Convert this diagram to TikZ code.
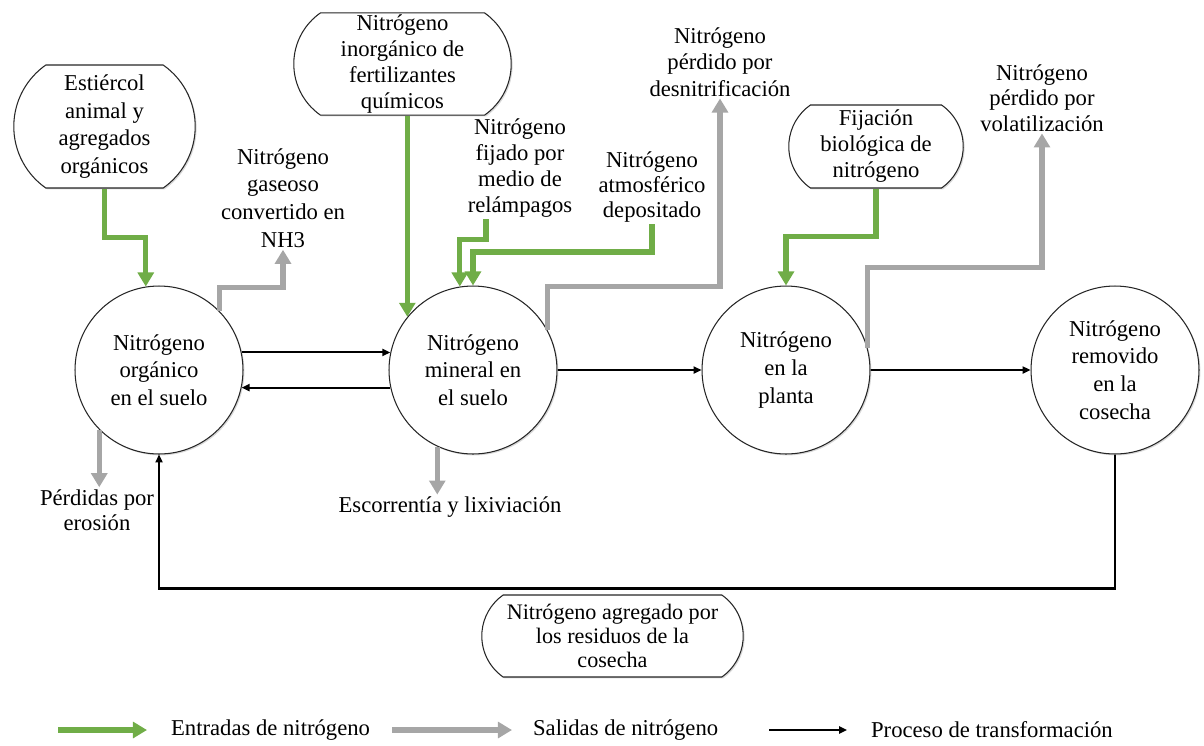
\documentclass[tikz,border=0pt]{standalone}
\usepackage{fontspec}
\setmainfont{Liberation Serif}
\usetikzlibrary{shapes.misc, shapes.geometric, shadows}
\usetikzlibrary{arrows.meta, calc}
\definecolor{verde}{RGB}{112,173,71}
\definecolor{gris}{RGB}{166,166,166}
\colorlet{borde}{black!85}

\tikzset{
    texto/.style={font=\fontsize{12.9}{15.8}\selectfont, align=center, inner sep=1pt},
    caja/.style={texto, rounded rectangle, rounded rectangle arc length=110, draw=borde, line width=0.6pt, fill=white,
        drop shadow={shadow xshift=0.8pt, shadow yshift=-0.8pt, opacity=0.3}},
    circulo/.style={texto, circle, minimum size=3.36cm, draw=borde, line width=0.6pt, fill=white,
        drop shadow={shadow xshift=0.8pt, shadow yshift=-0.8pt, opacity=0.3}},
    entrada/.style={verde, line width=3pt, -{Triangle[length=8pt,width=9pt]}},
    salida/.style={gris, line width=3pt, -{Triangle[length=8pt,width=9pt]}},
    proceso/.style={black, line width=1.2pt, -{Triangle[length=4.5pt,width=4pt]}}
}

\begin{document}
\begin{tikzpicture}[x=0.02cm, y=-0.02cm]
    \useasboundingbox (0,0) rectangle (1204,745);

    % reservorios
    \node[circulo] (organico) at (159,370) {Nitrógeno\\orgánico\\en el suelo};
    \node[circulo] (mineral) at (473,370) {Nitrógeno\\mineral en\\el suelo};
    \node[circulo] (planta) at (786,370) {Nitrógeno\\en la\\planta};
    \node[circulo] (cosecha) at (1115,370) {Nitrógeno\\removido\\en la\\cosecha};

    % cajas
    \node[caja, minimum width=3.7cm, minimum height=2.46cm] (estiercol) at (104.5,126.5) {Estiércol\\animal y\\agregados\\orgánicos};
    \node[caja, minimum width=4.42cm, minimum height=2.04cm, font=\fontsize{12.9}{14.8}\selectfont] (fertil) at (402.5,64) {Nitrógeno\\inorgánico de\\fertilizantes\\químicos};
    \node[caja, minimum width=3.56cm, minimum height=1.66cm, font=\fontsize{12.9}{14.8}\selectfont] (fijacion) at (876,146.5) {Fijación\\biológica de\\nitrógeno};
    \node[caja, minimum width=5.3cm, minimum height=1.64cm, font=\fontsize{12.6}{13.6}\selectfont] (residuos) at (612.5,636) {Nitrógeno agregado por\\los residuos de la\\cosecha};

    % etiquetas
    \node[texto] (gas) at (283,198) {Nitrógeno\\gaseoso\\convertido en\\NH3};
    \node[texto, font=\fontsize{12.9}{14.8}\selectfont] (relampago) at (520,168) {Nitrógeno\\fijado por\\medio de\\relámpagos};
    \node[texto, font=\fontsize{12.9}{14}\selectfont] (atmosf) at (652,187) {Nitrógeno\\atmosférico\\depositado};
    \node[texto, font=\fontsize{12.9}{15}\selectfont] (desnitri) at (720,62) {Nitrógeno\\pérdido por\\desnitrificación};
    \node[texto, font=\fontsize{12.9}{14.4}\selectfont] (volatil) at (1042,98) {Nitrógeno\\pérdido por\\volatilización};
    \node[texto, font=\fontsize{12.9}{14.4}\selectfont] (erosion) at (97,510) {Pérdidas por\\erosión};
    \node[texto] (escorrentia) at (450,507) {Escorrentía y lixiviación};

    % entradas
    \draw[entrada] (estiercol.south) -- ++(0,49) -| (organico.99);
    \draw[entrada] (fertil.south -| mineral.141) -- (mineral.141);
    \draw[entrada] ([xshift=-0.68cm]relampago.south) -- ++(0,20) -| (mineral.99);
    \draw[entrada] (atmosf.south) -- ++(0,28) -| (mineral.north);
    \draw[entrada] (fijacion.south) -- ++(0,48) -| (planta.north);

    % salidas
    \draw[salida] (organico.44) -- ++(0,-24) -| (gas.south);
    \draw[salida] (mineral.28) -- ++(0,-44) -| (desnitri.south);
    \draw[salida] (planta.15) -- ++(0,-81) -| (volatil.south);
    \draw[salida] (organico.225) -- (organico.225 |- erosion.north);
    \draw[salida] (mineral.245) -- (mineral.245 |- escorrentia.north);

    % transformaciones
    \draw[proceso] (organico.12) -- (mineral.168);
    \draw[proceso] (mineral.192) -- (organico.-12);
    \draw[proceso] (mineral.east) -- (planta.west);
    \draw[proceso] (planta.east) -- (cosecha.west);
    \draw[proceso] (cosecha.south) -- ++(0,134) -| (organico.south);

    % leyenda
    \node[texto, anchor=west] (ley-ent) at (169,730) {Entradas de nitrógeno};
    \node[texto, anchor=west] (ley-sal) at (531,730) {Salidas de nitrógeno};
    \node[texto, anchor=west] (ley-pro) at (869,730) {Proceso de transformación};
    \coordinate (ley-ent-ini) at (58,730);
    \coordinate (ley-sal-ini) at (392,730);
    \coordinate (ley-pro-ini) at (769,730);
    \draw[entrada] (ley-ent-ini) -- ([xshift=-0.44cm]ley-ent.west);
    \draw[salida] (ley-sal-ini) -- ([xshift=-0.38cm]ley-sal.west);
    \draw[proceso] (ley-pro-ini) -- ([xshift=-0.44cm]ley-pro.west);

\end{tikzpicture}
\end{document}
